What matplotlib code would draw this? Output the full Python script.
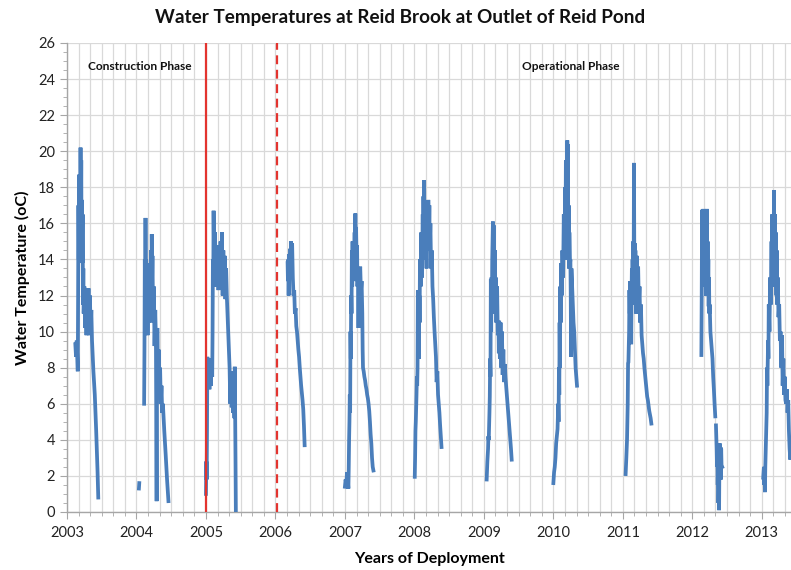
import matplotlib.pyplot as plt
from matplotlib.ticker import MultipleLocator


# season-by-season readings (decimal year, water temperature in oC)
t_2003 = [2003.12, 2003.13, 2003.14, 2003.155, 2003.16, 2003.165, 2003.17, 2003.175, 2003.18, 2003.185,
          2003.19, 2003.195, 2003.2, 2003.205, 2003.21, 2003.215, 2003.22, 2003.225, 2003.23, 2003.235,
          2003.24, 2003.25, 2003.26, 2003.27, 2003.28, 2003.29, 2003.30, 2003.31, 2003.32, 2003.33,
          2003.34, 2003.35, 2003.36, 2003.38, 2003.40, 2003.42, 2003.44, 2003.45]
v_2003 = [9.3, 8.6, 9.5, 7.8, 12, 17.0, 14, 18.7, 15.5, 17.8,
          14.5, 20.2, 16, 19.5, 14, 17.3, 13.8, 16.5, 11.5, 13.5,
          11, 12.5, 10.2, 12.4, 9.8, 12.3, 10.5, 12.4, 9.8, 12.0,
          10.0, 11.2, 9.5, 7.8, 6.5, 4.5, 2.2, 0.8]

t_2004a = [2004.035, 2004.04]
v_2004a = [1.3, 1.6]

t_2004 = [2004.11, 2004.115, 2004.12, 2004.125, 2004.13, 2004.135, 2004.14, 2004.145, 2004.15, 2004.16,
          2004.17, 2004.18, 2004.19, 2004.2, 2004.21, 2004.215, 2004.22, 2004.225, 2004.23, 2004.24,
          2004.25, 2004.26, 2004.27, 2004.28, 2004.285, 2004.29, 2004.295, 2004.30, 2004.31, 2004.32,
          2004.33, 2004.34, 2004.35, 2004.36, 2004.37, 2004.38, 2004.40, 2004.42, 2004.44, 2004.46]
v_2004 = [6.0, 9, 14, 11, 16.3, 12, 14, 10, 13.5, 9.8,
          12.8, 10.5, 13.8, 11.5, 14.5, 12, 15.4, 13, 14.2, 10.5,
          12.5, 9.2, 11.2, 9.5, 5, 0.6, 8, 10.2, 7.5, 9.0,
          6.5, 8.0, 6.0, 7.0, 5.5, 6.0, 4.5, 3.2, 1.8, 0.6]

t_2005 = [2005.0, 2005.005, 2005.01, 2005.015, 2005.02, 2005.03, 2005.04, 2005.05, 2005.06, 2005.07,
          2005.08, 2005.09, 2005.095, 2005.10, 2005.105, 2005.11, 2005.12, 2005.13, 2005.14, 2005.15,
          2005.16, 2005.17, 2005.18, 2005.19, 2005.2, 2005.21, 2005.22, 2005.23, 2005.24, 2005.25,
          2005.26, 2005.27, 2005.28, 2005.29, 2005.30, 2005.31, 2005.32, 2005.33, 2005.34, 2005.35,
          2005.36, 2005.37, 2005.38, 2005.39, 2005.40, 2005.41, 2005.415, 2005.425, 2005.43]
v_2005 = [1.0, 2.8, 1.8, 4.5, 8.6, 7.2, 8.4, 6.8, 8.5, 7.0,
          8.3, 7.5, 10, 14, 12.5, 16.7, 13, 15.5, 12.5, 14.8,
          12.8, 14.2, 12.3, 14.5, 13, 15.0, 12.5, 15.5, 12, 14.5,
          12.0, 14.2, 11.8, 13.5, 12, 11, 10, 9, 8, 6.0,
          7.8, 5.8, 7.5, 5.5, 6.8, 5.2, 8.05, 3, 0.1]

t_2006 = [2006.175, 2006.18, 2006.185, 2006.19, 2006.195, 2006.20, 2006.21, 2006.215, 2006.22, 2006.225,
          2006.23, 2006.24, 2006.25, 2006.26, 2006.27, 2006.28, 2006.29, 2006.30, 2006.31, 2006.32,
          2006.33, 2006.34, 2006.35, 2006.36, 2006.37, 2006.38, 2006.39, 2006.40, 2006.41, 2006.42]
v_2006 = [13.8, 12.8, 14.0, 12.0, 13.5, 14.3, 13.0, 14.6, 13.5, 15.0,
          13.0, 14.9, 13, 12.0, 12.3, 11.0, 11.3, 10.3, 10.0, 9.5,
          9.0, 8.6, 8.0, 7.5, 7.0, 6.6, 6.2, 5.7, 4.8, 3.7]

t_2007 = [2007.0, 2007.01, 2007.02, 2007.03, 2007.04, 2007.05, 2007.055, 2007.06, 2007.065, 2007.07,
          2007.075, 2007.08, 2007.085, 2007.09, 2007.095, 2007.10, 2007.105, 2007.11, 2007.115, 2007.12,
          2007.13, 2007.14, 2007.145, 2007.15, 2007.155, 2007.16, 2007.17, 2007.175, 2007.18, 2007.19,
          2007.195, 2007.20, 2007.21, 2007.22, 2007.23, 2007.24, 2007.25, 2007.255, 2007.26, 2007.27,
          2007.28, 2007.29, 2007.30, 2007.31, 2007.32, 2007.33, 2007.34, 2007.35, 2007.36, 2007.37,
          2007.38, 2007.39, 2007.40, 2007.41]
v_2007 = [1.4, 1.8, 1.5, 2.2, 1.8, 1.3, 2.5, 4.0, 5.0, 6.5,
          5.5, 10, 8.5, 12, 11, 14.5, 12.5, 15.0, 13.0, 14.8,
          12.8, 15.5, 13.5, 16.55, 14, 15.8, 13.5, 14.8, 12.5, 13.5,
          10.2, 13.5, 12.5, 13.6, 12.2, 12.8, 11.0, 9.0, 8.0, 7.8,
          7.5, 7.3, 7.0, 6.8, 6.5, 6.3, 6.0, 5.6, 5.0, 4.3,
          3.8, 3.0, 2.5, 2.3]

t_2008 = [2008.005, 2008.01, 2008.015, 2008.02, 2008.03, 2008.035, 2008.04, 2008.045, 2008.05, 2008.055,
          2008.06, 2008.065, 2008.07, 2008.075, 2008.08, 2008.09, 2008.10, 2008.11, 2008.12, 2008.125,
          2008.13, 2008.135, 2008.14, 2008.145, 2008.15, 2008.16, 2008.17, 2008.175, 2008.18, 2008.19,
          2008.20, 2008.21, 2008.215, 2008.22, 2008.23, 2008.24, 2008.25, 2008.26, 2008.27, 2008.28,
          2008.29, 2008.30, 2008.31, 2008.32, 2008.33, 2008.34, 2008.35, 2008.36, 2008.37, 2008.38,
          2008.39]
v_2008 = [1.95, 3.0, 4.5, 5.0, 6.5, 7.5, 7.0, 8.0, 12.3, 9,
          11, 8.5, 12, 10.5, 14, 12.5, 15.5, 13, 16.5, 14,
          17.5, 15, 18.4, 14.5, 16.8, 14.0, 15.5, 13.5, 16.5, 14.5,
          17.3, 15.5, 17.0, 14.5, 16.0, 13.5, 14.5, 12.5, 11.8, 10.8,
          10.0, 9.3, 8.6, 7.2, 7.8, 6.5, 6.0, 5.5, 4.8, 4.2,
          3.6]

t_2009 = [2009.04, 2009.05, 2009.06, 2009.065, 2009.07, 2009.08, 2009.085, 2009.09, 2009.095, 2009.10,
          2009.105, 2009.11, 2009.115, 2009.12, 2009.13, 2009.135, 2009.14, 2009.15, 2009.16, 2009.165,
          2009.17, 2009.18, 2009.19, 2009.20, 2009.21, 2009.215, 2009.22, 2009.23, 2009.24, 2009.25,
          2009.26, 2009.27, 2009.28, 2009.29, 2009.30, 2009.31, 2009.32, 2009.33, 2009.35, 2009.37,
          2009.39, 2009.40]
v_2009 = [1.8, 2.8, 3.5, 4.2, 4.0, 5.5, 6.4, 8.5, 7.5, 12.9,
          10, 13.0, 11, 14.0, 16.1, 13.5, 15.9, 12.5, 14.5, 11,
          13.0, 10.5, 12.5, 9.8, 10.5, 8.8, 10.6, 8.5, 10.5, 8.0,
          10.0, 7.6, 9.0, 7.2, 8.2, 7.5, 7.0, 6.5, 5.5, 4.5,
          3.5, 2.9]

t_2010 = [2010.0, 2010.01, 2010.02, 2010.03, 2010.04, 2010.05, 2010.06, 2010.07, 2010.075, 2010.08,
          2010.085, 2010.09, 2010.095, 2010.10, 2010.105, 2010.11, 2010.12, 2010.13, 2010.14, 2010.15,
          2010.16, 2010.17, 2010.175, 2010.18, 2010.185, 2010.19, 2010.195, 2010.20, 2010.205, 2010.21,
          2010.215, 2010.22, 2010.225, 2010.23, 2010.24, 2010.245, 2010.25, 2010.255, 2010.26, 2010.27,
          2010.28, 2010.29, 2010.30, 2010.31, 2010.32, 2010.33, 2010.34]
v_2010 = [1.6, 2.2, 2.5, 3.0, 3.8, 4.2, 4.6, 6.0, 5.0, 8.0,
          6.5, 10.5, 8.0, 12.5, 10.5, 13.8, 12.0, 14.5, 13.0, 16.5,
          14.0, 18.0, 15, 19.5, 14.5, 18.0, 14, 20.6, 15, 20.4,
          14, 17, 13.5, 15.5, 13.8, 14.0, 12.0, 8.6, 13.5, 12.5,
          11.5, 10.5, 10.0, 9.0, 8.0, 7.5, 7.0]

t_2011 = [2011.04, 2011.05, 2011.06, 2011.07, 2011.075, 2011.08, 2011.09, 2011.095, 2011.10, 2011.105,
          2011.11, 2011.115, 2011.12, 2011.125, 2011.13, 2011.135, 2011.14, 2011.145, 2011.15, 2011.155,
          2011.16, 2011.165, 2011.17, 2011.175, 2011.18, 2011.19, 2011.20, 2011.21, 2011.22, 2011.23,
          2011.24, 2011.25, 2011.26, 2011.27, 2011.28, 2011.29, 2011.30, 2011.31, 2011.32, 2011.33,
          2011.34, 2011.35, 2011.36, 2011.37, 2011.38, 2011.39, 2011.40, 2011.41]
v_2011 = [2.1, 3.0, 4.0, 6.0, 8.25, 8.3, 10.0, 12.3, 11.0, 12.8,
          10.0, 12.5, 9.3, 12.0, 13.5, 11.5, 14.0, 12.0, 15.0, 12.5,
          19.35, 14.0, 14.9, 12.0, 14.5, 11.0, 14.2, 12.0, 13.6, 11.5,
          12.5, 10.5, 11.5, 9.8, 9.3, 8.8, 8.5, 8.0, 7.6, 7.2,
          6.8, 6.4, 6.2, 5.9, 5.6, 5.4, 5.2, 4.9]

t_2012a = [2012.13, 2012.135, 2012.14, 2012.145, 2012.15, 2012.155, 2012.16, 2012.165, 2012.17, 2012.175,
           2012.18, 2012.185, 2012.19, 2012.195, 2012.20, 2012.205, 2012.21, 2012.215, 2012.22, 2012.225,
           2012.23, 2012.235, 2012.24, 2012.245, 2012.25, 2012.26, 2012.27, 2012.28, 2012.29, 2012.30,
           2012.31, 2012.32, 2012.33]
v_2012a = [8.7, 12, 16.75, 13.5, 16.5, 14, 16.8, 13, 15.5, 12.5,
           16.3, 13, 14.5, 12.0, 15.5, 13.5, 16.8, 13.5, 15.0, 12.5,
           14.0, 11.4, 13.0, 11.0, 11.5, 10.0, 9.5, 9.0, 8.5, 7.5,
           6.8, 6.0, 5.3]

t_2012b = [2012.34, 2012.35, 2012.355, 2012.36, 2012.365, 2012.37, 2012.375, 2012.38, 2012.385, 2012.39,
           2012.395, 2012.40, 2012.405, 2012.41, 2012.415, 2012.42, 2012.43]
v_2012b = [4.8, 3.5, 2.5, 3.2, 1.5, 2.8, 0.5, 2.0, 0.1, 3.0,
           3.8, 2.5, 3.6, 1.8, 3.5, 2.6, 2.5]

t_2013 = [2013.02, 2013.03, 2013.035, 2013.04, 2013.045, 2013.05, 2013.06, 2013.07, 2013.075, 2013.08,
          2013.09, 2013.095, 2013.10, 2013.11, 2013.12, 2013.13, 2013.14, 2013.145, 2013.15, 2013.155,
          2013.16, 2013.17, 2013.175, 2013.18, 2013.19, 2013.195, 2013.20, 2013.21, 2013.215, 2013.22,
          2013.23, 2013.24, 2013.25, 2013.26, 2013.27, 2013.28, 2013.29, 2013.30, 2013.31, 2013.32,
          2013.33, 2013.34, 2013.35, 2013.36, 2013.37, 2013.38, 2013.39, 2013.40, 2013.41, 2013.42]
v_2013 = [1.9, 2.5, 1.5, 2.0, 1.1, 2.5, 4.0, 5.5, 8.0, 7.0,
          9.5, 8.5, 11.5, 10.0, 13.0, 11.5, 15.0, 12.5, 16.5, 13.5,
          15.5, 14.0, 17.85, 13.0, 16.5, 12.5, 15.5, 12.0, 14.5, 11.5,
          13.0, 10.8, 11.5, 9.5, 10.0, 8.0, 9.8, 7.0, 8.5, 6.5,
          7.5, 6.2, 6.0, 6.8, 5.5, 6.2, 4.5, 3.5, 2.9, 3.5]

SEASONS = [
    (t_2003, v_2003), (t_2004a, v_2004a), (t_2004, v_2004), (t_2005, v_2005),
    (t_2006, v_2006), (t_2007, v_2007), (t_2008, v_2008), (t_2009, v_2009),
    (t_2010, v_2010), (t_2011, v_2011), (t_2012a, v_2012a), (t_2012b, v_2012b),
    (t_2013, v_2013),
]

year_ticks = list(range(2003, 2014))
construction_end = 2005.0
operation_start = 2006.02

BLUE = "#4A7EBB"
RED = "#E3342F"
GRID = "#D9D9D9"
AXIS = "#A6A6A6"

plt.rcParams["font.family"] = ["Lato", "DejaVu Sans"]


def main():
    fig = plt.figure(figsize=(7.91, 5.70), dpi=100)
    ax = fig.add_axes([0.0847, 0.1018, 0.9153, 0.8228])

    for t, v in SEASONS:
        ax.plot(t, v, color=BLUE, linewidth=2.7, solid_joinstyle="miter", zorder=3)

    ax.axvline(construction_end, color=RED, linewidth=1.6, zorder=4)
    ax.axvline(operation_start, color=RED, linewidth=1.6, linestyle=(0, (4, 2.5)), zorder=4)

    ax.set_xlim(2003, 2013.42)
    ax.set_ylim(0, 26)
    ax.set_xticks(year_ticks)
    ax.set_xticklabels([str(y) for y in year_ticks])
    ax.xaxis.set_minor_locator(MultipleLocator(1 / 6))
    ax.yaxis.set_major_locator(MultipleLocator(2))
    ax.yaxis.set_minor_locator(MultipleLocator(0.5))

    ax.grid(True, which="major", axis="y", color=GRID, linewidth=0.9, zorder=0)
    ax.grid(True, which="both", axis="x", color=GRID, linewidth=0.9, zorder=0)
    ax.set_axisbelow(True)

    for side in ["top", "right"]:
        ax.spines[side].set_visible(False)
    for side in ["left", "bottom"]:
        ax.spines[side].set_color(AXIS)
        ax.spines[side].set_linewidth(1.0)

    ax.tick_params(axis="both", which="both", color=AXIS, direction="out")
    ax.tick_params(axis="both", which="major", length=5, labelsize=10.5, labelcolor="#222222")
    ax.tick_params(axis="both", which="minor", length=3)
    ax.tick_params(axis="x", which="major", pad=5)

    fig.text(400 / 791, 1 - 17 / 570, "Water Temperatures at Reid Brook at Outlet of Reid Pond",
             fontsize=13.6, fontweight="bold", ha="center", va="center", color="#111111")
    ax.set_xlabel("Years of Deployment", fontsize=11.5, fontweight="bold", labelpad=9)
    ax.set_ylabel("Water Temperature (oC)", fontsize=11.5, fontweight="bold", labelpad=6)

    ax.text(2003.3, 24.7, "Construction Phase", fontsize=8.6, fontweight="bold",
            ha="left", va="center", color="#111111")
    ax.text(2010.25, 24.7, "Operational Phase", fontsize=8.6, fontweight="bold",
            ha="center", va="center", color="#111111")

    fig.savefig("out.png", dpi=100)
    plt.close(fig)


if __name__ == "__main__":
    main()
